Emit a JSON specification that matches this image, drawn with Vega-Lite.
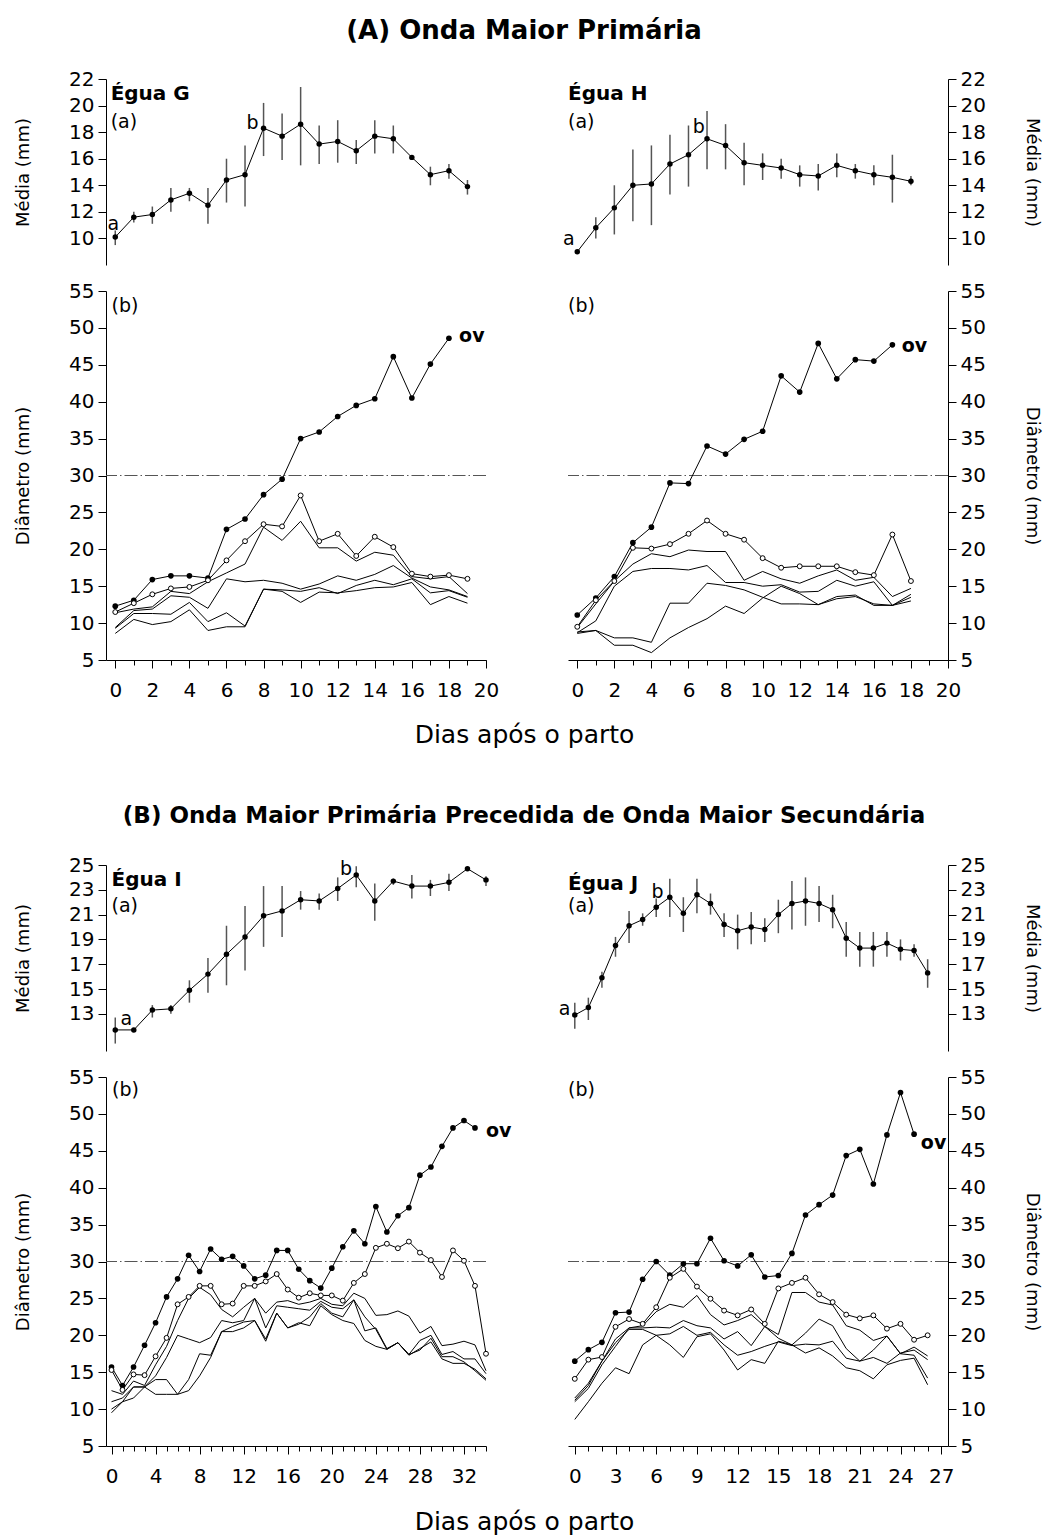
{
"$schema":"https://vega.github.io/schema/vega-lite/v6.json",
"padding":{"left":13,"top":18,"right":5,"bottom":5},
"config":{"view":{"stroke":null},"font":"DejaVu Sans",
"axis":{"domainColor":"black","tickColor":"black","labelColor":"black","titleColor":"black","grid":false,"labelFont":"DejaVu Sans","labelFontSize":20,"titleFont":"DejaVu Sans","titleFontWeight":"normal","titleFontSize":18,"labelFlush":false,"labelOverlap":false,"domainWidth":1,"tickWidth":1},
"text":{"font":"DejaVu Sans","color":"black"}},
"datasets":{
"G_top":[{"d":0,"m":10.1,"lo":9.5,"hi":10.6},{"d":1,"m":11.6,"lo":11.2,"hi":12.0},{"d":2,"m":11.8,"lo":11.1,"hi":12.4},{"d":3,"m":12.9,"lo":12.0,"hi":13.8},{"d":4,"m":13.4,"lo":12.8,"hi":13.8},{"d":5,"m":12.5,"lo":11.1,"hi":13.8},{"d":6,"m":14.4,"lo":12.7,"hi":16.0},{"d":7,"m":14.8,"lo":12.4,"hi":17.0},{"d":8,"m":18.3,"lo":16.2,"hi":20.2},{"d":9,"m":17.7,"lo":15.9,"hi":19.4},{"d":10,"m":18.6,"lo":15.5,"hi":21.4},{"d":11,"m":17.1,"lo":15.6,"hi":18.5},{"d":12,"m":17.3,"lo":15.7,"hi":18.9},{"d":13,"m":16.6,"lo":15.6,"hi":17.4},{"d":14,"m":17.7,"lo":16.4,"hi":18.9},{"d":15,"m":17.5,"lo":16.4,"hi":18.5},{"d":16,"m":16.1,"lo":16.0,"hi":16.2},{"d":17,"m":14.8,"lo":14.0,"hi":15.4},{"d":18,"m":15.1,"lo":14.5,"hi":15.6},{"d":19,"m":13.9,"lo":13.3,"hi":14.4}],
"H_top":[{"d":0,"m":9.0,"lo":9.0,"hi":9.0},{"d":1,"m":10.8,"lo":10.0,"hi":11.6},{"d":2,"m":12.3,"lo":10.3,"hi":14.0},{"d":3,"m":14.0,"lo":11.3,"hi":16.7},{"d":4,"m":14.1,"lo":11.0,"hi":17.0},{"d":5,"m":15.6,"lo":13.3,"hi":17.8},{"d":6,"m":16.3,"lo":13.9,"hi":18.5},{"d":7,"m":17.5,"lo":15.2,"hi":19.6},{"d":8,"m":17.0,"lo":15.2,"hi":18.6},{"d":9,"m":15.7,"lo":14.0,"hi":17.2},{"d":10,"m":15.5,"lo":14.4,"hi":16.4},{"d":11,"m":15.3,"lo":14.5,"hi":16.0},{"d":12,"m":14.8,"lo":13.9,"hi":15.5},{"d":13,"m":14.7,"lo":13.6,"hi":15.6},{"d":14,"m":15.5,"lo":14.6,"hi":16.4},{"d":15,"m":15.1,"lo":14.5,"hi":15.6},{"d":16,"m":14.8,"lo":14.0,"hi":15.5},{"d":17,"m":14.6,"lo":12.7,"hi":16.3},{"d":18,"m":14.3,"lo":14.0,"hi":14.7}],
"I_top":[{"d":0,"m":11.7,"lo":10.6,"hi":12.7},{"d":1,"m":11.7,"lo":11.6,"hi":11.8},{"d":2,"m":13.3,"lo":12.7,"hi":13.7},{"d":3,"m":13.4,"lo":13.0,"hi":13.7},{"d":4,"m":14.9,"lo":13.9,"hi":15.7},{"d":5,"m":16.2,"lo":14.7,"hi":17.5},{"d":6,"m":17.8,"lo":15.3,"hi":20.1},{"d":7,"m":19.2,"lo":16.5,"hi":21.7},{"d":8,"m":20.9,"lo":18.4,"hi":23.3},{"d":9,"m":21.3,"lo":19.2,"hi":23.3},{"d":10,"m":22.2,"lo":21.4,"hi":22.9},{"d":11,"m":22.1,"lo":21.4,"hi":22.7},{"d":12,"m":23.1,"lo":22.1,"hi":24.0},{"d":13,"m":24.2,"lo":23.2,"hi":24.9},{"d":14,"m":22.1,"lo":20.5,"hi":23.5},{"d":15,"m":23.7,"lo":23.4,"hi":23.9},{"d":16,"m":23.3,"lo":22.3,"hi":24.2},{"d":17,"m":23.3,"lo":22.5,"hi":23.8},{"d":18,"m":23.6,"lo":22.9,"hi":24.3},{"d":19,"m":24.7,"lo":24.6,"hi":24.8},{"d":20,"m":23.8,"lo":23.3,"hi":24.1}],
"J_top":[{"d":0,"m":12.9,"lo":11.8,"hi":13.9},{"d":1,"m":13.5,"lo":12.5,"hi":14.3},{"d":2,"m":15.9,"lo":15.1,"hi":16.4},{"d":3,"m":18.5,"lo":17.6,"hi":19.2},{"d":4,"m":20.1,"lo":18.7,"hi":21.3},{"d":5,"m":20.6,"lo":20.1,"hi":21.1},{"d":6,"m":21.6,"lo":20.8,"hi":22.3},{"d":7,"m":22.4,"lo":20.8,"hi":23.9},{"d":8,"m":21.1,"lo":19.6,"hi":22.4},{"d":9,"m":22.6,"lo":21.1,"hi":23.9},{"d":10,"m":21.9,"lo":21.0,"hi":22.7},{"d":11,"m":20.2,"lo":19.2,"hi":21.1},{"d":12,"m":19.7,"lo":18.2,"hi":21.0},{"d":13,"m":20.0,"lo":18.6,"hi":21.2},{"d":14,"m":19.8,"lo":18.8,"hi":20.7},{"d":15,"m":21.0,"lo":19.5,"hi":22.2},{"d":16,"m":21.9,"lo":19.8,"hi":23.7},{"d":17,"m":22.1,"lo":20.1,"hi":24.0},{"d":18,"m":21.9,"lo":20.4,"hi":23.3},{"d":19,"m":21.4,"lo":19.9,"hi":22.6},{"d":20,"m":19.1,"lo":17.6,"hi":20.4},{"d":21,"m":18.3,"lo":16.8,"hi":19.6},{"d":22,"m":18.3,"lo":16.8,"hi":19.6},{"d":23,"m":18.7,"lo":17.6,"hi":19.6},{"d":24,"m":18.2,"lo":17.3,"hi":19.0},{"d":25,"m":18.1,"lo":17.6,"hi":18.6},{"d":26,"m":16.3,"lo":15.1,"hi":17.4}],
"G_bot":[
{"d":0,"v":12.3,"s":"f"},{"d":1,"v":13.1,"s":"f"},{"d":2,"v":15.9,"s":"f"},{"d":3,"v":16.4,"s":"f"},{"d":4,"v":16.4,"s":"f"},{"d":5,"v":16.1,"s":"f"},{"d":6,"v":22.7,"s":"f"},{"d":7,"v":24.1,"s":"f"},{"d":8,"v":27.4,"s":"f"},{"d":9,"v":29.5,"s":"f"},{"d":10,"v":35.0,"s":"f"},{"d":11,"v":35.9,"s":"f"},{"d":12,"v":38.0,"s":"f"},{"d":13,"v":39.5,"s":"f"},{"d":14,"v":40.4,"s":"f"},{"d":15,"v":46.1,"s":"f"},{"d":16,"v":40.5,"s":"f"},{"d":17,"v":45.1,"s":"f"},{"d":18,"v":48.6,"s":"f"},
{"d":0,"v":11.5,"s":"o"},{"d":1,"v":12.7,"s":"o"},{"d":2,"v":13.9,"s":"o"},{"d":3,"v":14.7,"s":"o"},{"d":4,"v":14.9,"s":"o"},{"d":5,"v":15.8,"s":"o"},{"d":6,"v":18.5,"s":"o"},{"d":7,"v":21.1,"s":"o"},{"d":8,"v":23.4,"s":"o"},{"d":9,"v":23.1,"s":"o"},{"d":10,"v":27.3,"s":"o"},{"d":11,"v":21.1,"s":"o"},{"d":12,"v":22.1,"s":"o"},{"d":13,"v":19.1,"s":"o"},{"d":14,"v":21.7,"s":"o"},{"d":15,"v":20.3,"s":"o"},{"d":16,"v":16.7,"s":"o"},{"d":17,"v":16.3,"s":"o"},{"d":18,"v":16.5,"s":"o"},{"d":19,"v":16.0,"s":"o"},
{"d":0,"v":11.4,"s":"l1"},{"d":1,"v":11.9,"s":"l1"},{"d":2,"v":12.2,"s":"l1"},{"d":3,"v":14.3,"s":"l1"},{"d":4,"v":14.0,"s":"l1"},{"d":5,"v":15.6,"s":"l1"},{"d":6,"v":16.8,"s":"l1"},{"d":7,"v":18.0,"s":"l1"},{"d":8,"v":23.0,"s":"l1"},{"d":9,"v":21.2,"s":"l1"},{"d":10,"v":23.8,"s":"l1"},{"d":11,"v":20.2,"s":"l1"},{"d":12,"v":20.2,"s":"l1"},{"d":13,"v":18.4,"s":"l1"},{"d":14,"v":19.6,"s":"l1"},{"d":15,"v":19.2,"s":"l1"},{"d":16,"v":16.3,"s":"l1"},{"d":17,"v":16.0,"s":"l1"},{"d":18,"v":16.3,"s":"l1"},{"d":19,"v":14.0,"s":"l1"},
{"d":0,"v":9.4,"s":"l2"},{"d":1,"v":11.7,"s":"l2"},{"d":2,"v":11.9,"s":"l2"},{"d":3,"v":13.7,"s":"l2"},{"d":4,"v":13.5,"s":"l2"},{"d":5,"v":12.0,"s":"l2"},{"d":6,"v":16.0,"s":"l2"},{"d":7,"v":15.6,"s":"l2"},{"d":8,"v":15.8,"s":"l2"},{"d":9,"v":15.4,"s":"l2"},{"d":10,"v":14.6,"s":"l2"},{"d":11,"v":15.3,"s":"l2"},{"d":12,"v":16.4,"s":"l2"},{"d":13,"v":15.8,"s":"l2"},{"d":14,"v":16.6,"s":"l2"},{"d":15,"v":17.8,"s":"l2"},{"d":16,"v":16.1,"s":"l2"},{"d":17,"v":14.9,"s":"l2"},{"d":18,"v":14.5,"s":"l2"},{"d":19,"v":13.6,"s":"l2"},
{"d":0,"v":9.3,"s":"l3"},{"d":1,"v":11.3,"s":"l3"},{"d":2,"v":11.3,"s":"l3"},{"d":3,"v":11.2,"s":"l3"},{"d":4,"v":12.8,"s":"l3"},{"d":5,"v":10.2,"s":"l3"},{"d":6,"v":11.4,"s":"l3"},{"d":7,"v":9.6,"s":"l3"},{"d":8,"v":14.6,"s":"l3"},{"d":9,"v":14.5,"s":"l3"},{"d":10,"v":14.3,"s":"l3"},{"d":11,"v":14.8,"s":"l3"},{"d":12,"v":14.0,"s":"l3"},{"d":13,"v":15.1,"s":"l3"},{"d":14,"v":15.8,"s":"l3"},{"d":15,"v":15.2,"s":"l3"},{"d":16,"v":16.0,"s":"l3"},{"d":17,"v":14.1,"s":"l3"},{"d":18,"v":14.4,"s":"l3"},{"d":19,"v":13.5,"s":"l3"},
{"d":0,"v":8.6,"s":"l4"},{"d":1,"v":10.5,"s":"l4"},{"d":2,"v":9.8,"s":"l4"},{"d":3,"v":10.2,"s":"l4"},{"d":4,"v":11.8,"s":"l4"},{"d":5,"v":9.0,"s":"l4"},{"d":6,"v":9.5,"s":"l4"},{"d":7,"v":9.5,"s":"l4"},{"d":8,"v":14.6,"s":"l4"},{"d":9,"v":14.3,"s":"l4"},{"d":10,"v":12.8,"s":"l4"},{"d":11,"v":14.2,"s":"l4"},{"d":12,"v":14.1,"s":"l4"},{"d":13,"v":14.4,"s":"l4"},{"d":14,"v":14.8,"s":"l4"},{"d":15,"v":14.9,"s":"l4"},{"d":16,"v":15.5,"s":"l4"},{"d":17,"v":12.5,"s":"l4"},{"d":18,"v":13.6,"s":"l4"},{"d":19,"v":12.7,"s":"l4"}],
"H_bot":[
{"d":0,"v":11.1,"s":"f"},{"d":1,"v":13.4,"s":"f"},{"d":2,"v":16.3,"s":"f"},{"d":3,"v":20.9,"s":"f"},{"d":4,"v":23.0,"s":"f"},{"d":5,"v":29.0,"s":"f"},{"d":6,"v":28.9,"s":"f"},{"d":7,"v":34.0,"s":"f"},{"d":8,"v":32.9,"s":"f"},{"d":9,"v":34.9,"s":"f"},{"d":10,"v":36.0,"s":"f"},{"d":11,"v":43.5,"s":"f"},{"d":12,"v":41.3,"s":"f"},{"d":13,"v":47.9,"s":"f"},{"d":14,"v":43.1,"s":"f"},{"d":15,"v":45.7,"s":"f"},{"d":16,"v":45.5,"s":"f"},{"d":17,"v":47.7,"s":"f"},
{"d":0,"v":9.5,"s":"o"},{"d":1,"v":13.1,"s":"o"},{"d":2,"v":15.7,"s":"o"},{"d":3,"v":20.2,"s":"o"},{"d":4,"v":20.1,"s":"o"},{"d":5,"v":20.7,"s":"o"},{"d":6,"v":22.1,"s":"o"},{"d":7,"v":23.9,"s":"o"},{"d":8,"v":22.1,"s":"o"},{"d":9,"v":21.3,"s":"o"},{"d":10,"v":18.8,"s":"o"},{"d":11,"v":17.5,"s":"o"},{"d":12,"v":17.7,"s":"o"},{"d":13,"v":17.7,"s":"o"},{"d":14,"v":17.7,"s":"o"},{"d":15,"v":16.9,"s":"o"},{"d":16,"v":16.5,"s":"o"},{"d":17,"v":22.0,"s":"o"},{"d":18,"v":15.7,"s":"o"},
{"d":0,"v":9.4,"s":"l1"},{"d":1,"v":12.6,"s":"l1"},{"d":2,"v":15.7,"s":"l1"},{"d":3,"v":18.0,"s":"l1"},{"d":4,"v":19.4,"s":"l1"},{"d":5,"v":19.0,"s":"l1"},{"d":6,"v":19.9,"s":"l1"},{"d":7,"v":19.7,"s":"l1"},{"d":8,"v":19.7,"s":"l1"},{"d":9,"v":15.8,"s":"l1"},{"d":10,"v":17.0,"s":"l1"},{"d":11,"v":16.0,"s":"l1"},{"d":12,"v":15.4,"s":"l1"},{"d":13,"v":16.4,"s":"l1"},{"d":14,"v":17.2,"s":"l1"},{"d":15,"v":15.8,"s":"l1"},{"d":16,"v":16.2,"s":"l1"},{"d":17,"v":13.6,"s":"l1"},{"d":18,"v":14.7,"s":"l1"},
{"d":0,"v":8.7,"s":"l2"},{"d":1,"v":10.3,"s":"l2"},{"d":2,"v":15.0,"s":"l2"},{"d":3,"v":17.0,"s":"l2"},{"d":4,"v":17.4,"s":"l2"},{"d":5,"v":17.4,"s":"l2"},{"d":6,"v":17.2,"s":"l2"},{"d":7,"v":17.8,"s":"l2"},{"d":8,"v":15.5,"s":"l2"},{"d":9,"v":15.5,"s":"l2"},{"d":10,"v":15.0,"s":"l2"},{"d":11,"v":15.2,"s":"l2"},{"d":12,"v":14.2,"s":"l2"},{"d":13,"v":14.3,"s":"l2"},{"d":14,"v":15.8,"s":"l2"},{"d":15,"v":15.0,"s":"l2"},{"d":16,"v":15.6,"s":"l2"},{"d":17,"v":12.4,"s":"l2"},{"d":18,"v":13.9,"s":"l2"},
{"d":0,"v":8.8,"s":"l3"},{"d":1,"v":9.0,"s":"l3"},{"d":2,"v":8.0,"s":"l3"},{"d":3,"v":8.0,"s":"l3"},{"d":4,"v":7.4,"s":"l3"},{"d":5,"v":12.7,"s":"l3"},{"d":6,"v":12.7,"s":"l3"},{"d":7,"v":15.4,"s":"l3"},{"d":8,"v":15.1,"s":"l3"},{"d":9,"v":14.5,"s":"l3"},{"d":10,"v":13.5,"s":"l3"},{"d":11,"v":12.6,"s":"l3"},{"d":12,"v":12.6,"s":"l3"},{"d":13,"v":12.5,"s":"l3"},{"d":14,"v":13.3,"s":"l3"},{"d":15,"v":13.6,"s":"l3"},{"d":16,"v":12.6,"s":"l3"},{"d":17,"v":12.4,"s":"l3"},{"d":18,"v":13.5,"s":"l3"},
{"d":0,"v":8.6,"s":"l4"},{"d":1,"v":9.0,"s":"l4"},{"d":2,"v":7.0,"s":"l4"},{"d":3,"v":7.0,"s":"l4"},{"d":4,"v":6.0,"s":"l4"},{"d":5,"v":8.0,"s":"l4"},{"d":6,"v":9.4,"s":"l4"},{"d":7,"v":10.6,"s":"l4"},{"d":8,"v":12.3,"s":"l4"},{"d":9,"v":11.3,"s":"l4"},{"d":10,"v":13.4,"s":"l4"},{"d":11,"v":15.0,"s":"l4"},{"d":12,"v":14.0,"s":"l4"},{"d":13,"v":12.5,"s":"l4"},{"d":14,"v":13.6,"s":"l4"},{"d":15,"v":13.8,"s":"l4"},{"d":16,"v":12.4,"s":"l4"},{"d":17,"v":12.4,"s":"l4"},{"d":18,"v":13.0,"s":"l4"}],
"I_bot":[
{"d":0,"v":15.7,"s":"f"},{"d":1,"v":13.2,"s":"f"},{"d":2,"v":15.7,"s":"f"},{"d":3,"v":18.65,"s":"f"},{"d":4,"v":21.7,"s":"f"},{"d":5,"v":25.2,"s":"f"},{"d":6,"v":27.65,"s":"f"},{"d":7,"v":30.85,"s":"f"},{"d":8,"v":28.65,"s":"f"},{"d":9,"v":31.7,"s":"f"},{"d":10,"v":30.3,"s":"f"},{"d":11,"v":30.7,"s":"f"},{"d":12,"v":29.4,"s":"f"},{"d":13,"v":27.65,"s":"f"},{"d":14,"v":28.15,"s":"f"},{"d":15,"v":31.5,"s":"f"},{"d":16,"v":31.5,"s":"f"},{"d":17,"v":28.95,"s":"f"},{"d":18,"v":27.4,"s":"f"},{"d":19,"v":26.4,"s":"f"},{"d":20,"v":29.1,"s":"f"},{"d":21,"v":32.0,"s":"f"},{"d":22,"v":34.15,"s":"f"},{"d":23,"v":32.4,"s":"f"},{"d":24,"v":37.45,"s":"f"},{"d":25,"v":34.0,"s":"f"},{"d":26,"v":36.2,"s":"f"},{"d":27,"v":37.3,"s":"f"},{"d":28,"v":41.7,"s":"f"},{"d":29,"v":42.8,"s":"f"},{"d":30,"v":45.6,"s":"f"},{"d":31,"v":48.1,"s":"f"},{"d":32,"v":49.1,"s":"f"},{"d":33,"v":48.1,"s":"f"},
{"d":0,"v":15.3,"s":"o"},{"d":1,"v":12.6,"s":"o"},{"d":2,"v":14.7,"s":"o"},{"d":3,"v":14.6,"s":"o"},{"d":4,"v":17.15,"s":"o"},{"d":5,"v":19.65,"s":"o"},{"d":6,"v":24.2,"s":"o"},{"d":7,"v":25.2,"s":"o"},{"d":8,"v":26.7,"s":"o"},{"d":9,"v":26.7,"s":"o"},{"d":10,"v":24.2,"s":"o"},{"d":11,"v":24.3,"s":"o"},{"d":12,"v":26.7,"s":"o"},{"d":13,"v":26.7,"s":"o"},{"d":14,"v":27.3,"s":"o"},{"d":15,"v":28.3,"s":"o"},{"d":16,"v":26.2,"s":"o"},{"d":17,"v":25.1,"s":"o"},{"d":18,"v":25.7,"s":"o"},{"d":19,"v":25.4,"s":"o"},{"d":20,"v":25.4,"s":"o"},{"d":21,"v":24.7,"s":"o"},{"d":22,"v":27.1,"s":"o"},{"d":23,"v":28.3,"s":"o"},{"d":24,"v":31.85,"s":"o"},{"d":25,"v":32.4,"s":"o"},{"d":26,"v":31.8,"s":"o"},{"d":27,"v":32.7,"s":"o"},{"d":28,"v":31.2,"s":"o"},{"d":29,"v":30.2,"s":"o"},{"d":30,"v":27.9,"s":"o"},{"d":31,"v":31.5,"s":"o"},{"d":32,"v":30.1,"s":"o"},{"d":33,"v":26.7,"s":"o"},{"d":34,"v":17.5,"s":"o"},
{"d":0,"v":12.5,"s":"l1"},{"d":1,"v":12.0,"s":"l1"},{"d":2,"v":13.8,"s":"l1"},{"d":3,"v":13.2,"s":"l1"},{"d":4,"v":16.0,"s":"l1"},{"d":5,"v":18.5,"s":"l1"},{"d":6,"v":22.0,"s":"l1"},{"d":7,"v":25.0,"s":"l1"},{"d":8,"v":26.5,"s":"l1"},{"d":9,"v":25.5,"s":"l1"},{"d":10,"v":23.5,"s":"l1"},{"d":11,"v":22.5,"s":"l1"},{"d":12,"v":23.8,"s":"l1"},{"d":13,"v":25.0,"s":"l1"},{"d":14,"v":23.0,"s":"l1"},{"d":15,"v":24.5,"s":"l1"},{"d":16,"v":24.7,"s":"l1"},{"d":17,"v":24.2,"s":"l1"},{"d":18,"v":24.5,"s":"l1"},{"d":19,"v":25.0,"s":"l1"},{"d":20,"v":24.2,"s":"l1"},{"d":21,"v":24.0,"s":"l1"},{"d":22,"v":25.7,"s":"l1"},{"d":23,"v":25.0,"s":"l1"},{"d":24,"v":22.7,"s":"l1"},{"d":25,"v":22.8,"s":"l1"},{"d":26,"v":23.3,"s":"l1"},{"d":27,"v":22.6,"s":"l1"},{"d":28,"v":20.3,"s":"l1"},{"d":29,"v":21.2,"s":"l1"},{"d":30,"v":18.6,"s":"l1"},{"d":31,"v":18.8,"s":"l1"},{"d":32,"v":19.2,"s":"l1"},{"d":33,"v":18.7,"s":"l1"},{"d":34,"v":15.2,"s":"l1"},
{"d":0,"v":11.0,"s":"l2"},{"d":1,"v":11.5,"s":"l2"},{"d":2,"v":13.0,"s":"l2"},{"d":3,"v":13.0,"s":"l2"},{"d":4,"v":14.5,"s":"l2"},{"d":5,"v":17.0,"s":"l2"},{"d":6,"v":20.0,"s":"l2"},{"d":7,"v":19.5,"s":"l2"},{"d":8,"v":19.0,"s":"l2"},{"d":9,"v":19.7,"s":"l2"},{"d":10,"v":22.0,"s":"l2"},{"d":11,"v":21.7,"s":"l2"},{"d":12,"v":22.0,"s":"l2"},{"d":13,"v":25.0,"s":"l2"},{"d":14,"v":21.0,"s":"l2"},{"d":15,"v":24.0,"s":"l2"},{"d":16,"v":23.8,"s":"l2"},{"d":17,"v":23.6,"s":"l2"},{"d":18,"v":23.4,"s":"l2"},{"d":19,"v":24.6,"s":"l2"},{"d":20,"v":23.8,"s":"l2"},{"d":21,"v":23.6,"s":"l2"},{"d":22,"v":24.8,"s":"l2"},{"d":23,"v":20.6,"s":"l2"},{"d":24,"v":21.0,"s":"l2"},{"d":25,"v":18.2,"s":"l2"},{"d":26,"v":19.0,"s":"l2"},{"d":27,"v":17.4,"s":"l2"},{"d":28,"v":19.3,"s":"l2"},{"d":29,"v":20.0,"s":"l2"},{"d":30,"v":17.4,"s":"l2"},{"d":31,"v":17.8,"s":"l2"},{"d":32,"v":16.8,"s":"l2"},{"d":33,"v":16.8,"s":"l2"},{"d":34,"v":14.8,"s":"l2"},
{"d":0,"v":10.0,"s":"l3"},{"d":1,"v":11.0,"s":"l3"},{"d":2,"v":11.5,"s":"l3"},{"d":3,"v":13.0,"s":"l3"},{"d":4,"v":14.0,"s":"l3"},{"d":5,"v":14.0,"s":"l3"},{"d":6,"v":12.0,"s":"l3"},{"d":7,"v":14.0,"s":"l3"},{"d":8,"v":17.5,"s":"l3"},{"d":9,"v":17.3,"s":"l3"},{"d":10,"v":20.5,"s":"l3"},{"d":11,"v":20.5,"s":"l3"},{"d":12,"v":21.0,"s":"l3"},{"d":13,"v":22.0,"s":"l3"},{"d":14,"v":19.5,"s":"l3"},{"d":15,"v":23.0,"s":"l3"},{"d":16,"v":21.0,"s":"l3"},{"d":17,"v":21.7,"s":"l3"},{"d":18,"v":21.3,"s":"l3"},{"d":19,"v":24.0,"s":"l3"},{"d":20,"v":22.8,"s":"l3"},{"d":21,"v":22.0,"s":"l3"},{"d":22,"v":21.6,"s":"l3"},{"d":23,"v":19.3,"s":"l3"},{"d":24,"v":18.5,"s":"l3"},{"d":25,"v":18.1,"s":"l3"},{"d":26,"v":19.0,"s":"l3"},{"d":27,"v":17.3,"s":"l3"},{"d":28,"v":18.2,"s":"l3"},{"d":29,"v":19.1,"s":"l3"},{"d":30,"v":16.8,"s":"l3"},{"d":31,"v":16.2,"s":"l3"},{"d":32,"v":16.2,"s":"l3"},{"d":33,"v":15.4,"s":"l3"},{"d":34,"v":14.1,"s":"l3"},
{"d":0,"v":9.5,"s":"l4"},{"d":1,"v":11.0,"s":"l4"},{"d":2,"v":13.0,"s":"l4"},{"d":3,"v":13.0,"s":"l4"},{"d":4,"v":12.0,"s":"l4"},{"d":5,"v":12.0,"s":"l4"},{"d":6,"v":12.0,"s":"l4"},{"d":7,"v":12.5,"s":"l4"},{"d":8,"v":14.5,"s":"l4"},{"d":9,"v":17.0,"s":"l4"},{"d":10,"v":20.5,"s":"l4"},{"d":11,"v":21.2,"s":"l4"},{"d":12,"v":21.8,"s":"l4"},{"d":13,"v":22.0,"s":"l4"},{"d":14,"v":19.2,"s":"l4"},{"d":15,"v":23.0,"s":"l4"},{"d":16,"v":21.0,"s":"l4"},{"d":17,"v":21.5,"s":"l4"},{"d":18,"v":22.5,"s":"l4"},{"d":19,"v":24.3,"s":"l4"},{"d":20,"v":23.0,"s":"l4"},{"d":21,"v":22.5,"s":"l4"},{"d":22,"v":24.8,"s":"l4"},{"d":23,"v":22.5,"s":"l4"},{"d":24,"v":20.8,"s":"l4"},{"d":25,"v":18.1,"s":"l4"},{"d":26,"v":19.0,"s":"l4"},{"d":27,"v":17.4,"s":"l4"},{"d":28,"v":18.0,"s":"l4"},{"d":29,"v":19.6,"s":"l4"},{"d":30,"v":17.1,"s":"l4"},{"d":31,"v":17.1,"s":"l4"},{"d":32,"v":16.4,"s":"l4"},{"d":33,"v":15.2,"s":"l4"},{"d":34,"v":13.9,"s":"l4"}],
"J_bot":[
{"d":0,"v":16.5,"s":"f"},{"d":1,"v":18.05,"s":"f"},{"d":2,"v":19.05,"s":"f"},{"d":3,"v":23.05,"s":"f"},{"d":4,"v":23.15,"s":"f"},{"d":5,"v":27.6,"s":"f"},{"d":6,"v":30.0,"s":"f"},{"d":7,"v":28.15,"s":"f"},{"d":8,"v":29.7,"s":"f"},{"d":9,"v":29.7,"s":"f"},{"d":10,"v":33.15,"s":"f"},{"d":11,"v":30.1,"s":"f"},{"d":12,"v":29.4,"s":"f"},{"d":13,"v":30.9,"s":"f"},{"d":14,"v":27.9,"s":"f"},{"d":15,"v":28.1,"s":"f"},{"d":16,"v":31.1,"s":"f"},{"d":17,"v":36.3,"s":"f"},{"d":18,"v":37.7,"s":"f"},{"d":19,"v":39.0,"s":"f"},{"d":20,"v":44.35,"s":"f"},{"d":21,"v":45.2,"s":"f"},{"d":22,"v":40.5,"s":"f"},{"d":23,"v":47.15,"s":"f"},{"d":24,"v":52.9,"s":"f"},{"d":25,"v":47.25,"s":"f"},
{"d":0,"v":14.1,"s":"o"},{"d":1,"v":16.7,"s":"o"},{"d":2,"v":17.05,"s":"o"},{"d":3,"v":21.15,"s":"o"},{"d":4,"v":22.2,"s":"o"},{"d":5,"v":21.55,"s":"o"},{"d":6,"v":23.8,"s":"o"},{"d":7,"v":27.8,"s":"o"},{"d":8,"v":29.0,"s":"o"},{"d":9,"v":26.6,"s":"o"},{"d":10,"v":24.95,"s":"o"},{"d":11,"v":23.35,"s":"o"},{"d":12,"v":22.7,"s":"o"},{"d":13,"v":23.5,"s":"o"},{"d":14,"v":21.55,"s":"o"},{"d":15,"v":26.35,"s":"o"},{"d":16,"v":27.1,"s":"o"},{"d":17,"v":27.8,"s":"o"},{"d":18,"v":25.55,"s":"o"},{"d":19,"v":24.5,"s":"o"},{"d":20,"v":22.8,"s":"o"},{"d":21,"v":22.3,"s":"o"},{"d":22,"v":22.7,"s":"o"},{"d":23,"v":20.9,"s":"o"},{"d":24,"v":21.55,"s":"o"},{"d":25,"v":19.4,"s":"o"},{"d":26,"v":20.0,"s":"o"},
{"d":0,"v":11.5,"s":"l1"},{"d":1,"v":13.5,"s":"l1"},{"d":2,"v":16.5,"s":"l1"},{"d":3,"v":19.5,"s":"l1"},{"d":4,"v":21.0,"s":"l1"},{"d":5,"v":21.3,"s":"l1"},{"d":6,"v":23.2,"s":"l1"},{"d":7,"v":24.2,"s":"l1"},{"d":8,"v":23.8,"s":"l1"},{"d":9,"v":25.4,"s":"l1"},{"d":10,"v":22.8,"s":"l1"},{"d":11,"v":21.4,"s":"l1"},{"d":12,"v":22.0,"s":"l1"},{"d":13,"v":22.8,"s":"l1"},{"d":14,"v":21.2,"s":"l1"},{"d":15,"v":20.1,"s":"l1"},{"d":16,"v":25.8,"s":"l1"},{"d":17,"v":25.8,"s":"l1"},{"d":18,"v":24.5,"s":"l1"},{"d":19,"v":24.1,"s":"l1"},{"d":20,"v":21.3,"s":"l1"},{"d":21,"v":20.7,"s":"l1"},{"d":22,"v":19.3,"s":"l1"},{"d":23,"v":19.9,"s":"l1"},{"d":24,"v":17.5,"s":"l1"},{"d":25,"v":17.3,"s":"l1"},{"d":26,"v":14.2,"s":"l1"},
{"d":0,"v":11.0,"s":"l2"},{"d":1,"v":12.8,"s":"l2"},{"d":2,"v":16.0,"s":"l2"},{"d":3,"v":18.5,"s":"l2"},{"d":4,"v":21.0,"s":"l2"},{"d":5,"v":21.0,"s":"l2"},{"d":6,"v":21.1,"s":"l2"},{"d":7,"v":21.0,"s":"l2"},{"d":8,"v":22.0,"s":"l2"},{"d":9,"v":21.3,"s":"l2"},{"d":10,"v":21.0,"s":"l2"},{"d":11,"v":19.5,"s":"l2"},{"d":12,"v":20.5,"s":"l2"},{"d":13,"v":18.6,"s":"l2"},{"d":14,"v":21.2,"s":"l2"},{"d":15,"v":19.6,"s":"l2"},{"d":16,"v":18.7,"s":"l2"},{"d":17,"v":20.3,"s":"l2"},{"d":18,"v":22.2,"s":"l2"},{"d":19,"v":21.3,"s":"l2"},{"d":20,"v":18.2,"s":"l2"},{"d":21,"v":16.5,"s":"l2"},{"d":22,"v":18.0,"s":"l2"},{"d":23,"v":19.9,"s":"l2"},{"d":24,"v":17.5,"s":"l2"},{"d":25,"v":18.4,"s":"l2"},{"d":26,"v":17.2,"s":"l2"},
{"d":0,"v":11.2,"s":"l3"},{"d":1,"v":13.2,"s":"l3"},{"d":2,"v":16.5,"s":"l3"},{"d":3,"v":19.0,"s":"l3"},{"d":4,"v":20.8,"s":"l3"},{"d":5,"v":20.8,"s":"l3"},{"d":6,"v":20.0,"s":"l3"},{"d":7,"v":20.2,"s":"l3"},{"d":8,"v":21.2,"s":"l3"},{"d":9,"v":20.0,"s":"l3"},{"d":10,"v":20.4,"s":"l3"},{"d":11,"v":18.7,"s":"l3"},{"d":12,"v":17.3,"s":"l3"},{"d":13,"v":17.8,"s":"l3"},{"d":14,"v":18.5,"s":"l3"},{"d":15,"v":19.1,"s":"l3"},{"d":16,"v":18.6,"s":"l3"},{"d":17,"v":18.8,"s":"l3"},{"d":18,"v":18.7,"s":"l3"},{"d":19,"v":19.2,"s":"l3"},{"d":20,"v":16.9,"s":"l3"},{"d":21,"v":16.5,"s":"l3"},{"d":22,"v":17.0,"s":"l3"},{"d":23,"v":16.2,"s":"l3"},{"d":24,"v":17.6,"s":"l3"},{"d":25,"v":18.0,"s":"l3"},{"d":26,"v":16.7,"s":"l3"},
{"d":0,"v":8.6,"s":"l4"},{"d":1,"v":11.0,"s":"l4"},{"d":2,"v":13.5,"s":"l4"},{"d":3,"v":15.6,"s":"l4"},{"d":4,"v":14.8,"s":"l4"},{"d":5,"v":18.7,"s":"l4"},{"d":6,"v":20.0,"s":"l4"},{"d":7,"v":18.7,"s":"l4"},{"d":8,"v":17.0,"s":"l4"},{"d":9,"v":19.8,"s":"l4"},{"d":10,"v":20.2,"s":"l4"},{"d":11,"v":18.0,"s":"l4"},{"d":12,"v":15.3,"s":"l4"},{"d":13,"v":16.7,"s":"l4"},{"d":14,"v":16.2,"s":"l4"},{"d":15,"v":19.2,"s":"l4"},{"d":16,"v":18.7,"s":"l4"},{"d":17,"v":17.6,"s":"l4"},{"d":18,"v":18.3,"s":"l4"},{"d":19,"v":17.2,"s":"l4"},{"d":20,"v":15.6,"s":"l4"},{"d":21,"v":15.2,"s":"l4"},{"d":22,"v":14.1,"s":"l4"},{"d":23,"v":16.0,"s":"l4"},{"d":24,"v":16.6,"s":"l4"},{"d":25,"v":16.9,"s":"l4"},{"d":26,"v":13.3,"s":"l4"}]
},
"columns":2,
"spacing":{"row":26,"column":82},
"bounds":"flush",
"concat":[
{"width":380,"height":186,
 "title":{"text":"(A) Onda Maior Primária","anchor":"middle","frame":"group","dx":228,"offset":25,"fontSize":26,"fontWeight":"bold","font":"DejaVu Sans","color":"black"},
 "layer":[
  {"data":{"name":"G_top"},"mark":{"type":"rule","color":"#555555","strokeWidth":1.5},"encoding":{"x":{"field":"d","type":"quantitative","scale":{"domain":[-0.5,20],"nice":false},"axis":null},"y":{"field":"lo","type":"quantitative","scale":{"domain":[8,22],"nice":false,"zero":false},"axis":{"values":[10,12,14,16,18,20,22],"tickSize":8,"labelPadding":4,"title":"Média (mm)","titleX":-83,"titleY":93,"titleAngle":-90,"titleAlign":"center","titleBaseline":"middle"}},"y2":{"field":"hi"}}},
  {"data":{"name":"G_top"},"mark":{"type":"line","color":"black","strokeWidth":1},"encoding":{"x":{"field":"d","type":"quantitative","scale":{"domain":[-0.5,20],"nice":false},"axis":null},"y":{"field":"m","type":"quantitative","scale":{"domain":[8,22],"nice":false,"zero":false},"axis":null}}},
  {"data":{"name":"G_top"},"mark":{"type":"point","filled":true,"color":"black","size":30,"opacity":1},"encoding":{"x":{"field":"d","type":"quantitative","scale":{"domain":[-0.5,20],"nice":false},"axis":null},"y":{"field":"m","type":"quantitative","scale":{"domain":[8,22],"nice":false,"zero":false},"axis":null}}},
  {"data":{"values":[{}]},"mark":{"type":"text","text":"Égua G","align":"left","baseline":"middle","fontSize":20,"fontWeight":"bold"},"encoding":{"x":{"datum":-0.25,"type":"quantitative","scale":{"domain":[-0.5,20],"nice":false},"axis":null},"y":{"datum":20.9,"type":"quantitative","scale":{"domain":[8,22],"nice":false,"zero":false},"axis":null}}},
  {"data":{"values":[{}]},"mark":{"type":"text","text":"(a)","align":"left","baseline":"middle","fontSize":19},"encoding":{"x":{"datum":-0.25,"type":"quantitative","scale":{"domain":[-0.5,20],"nice":false},"axis":null},"y":{"datum":18.8,"type":"quantitative","scale":{"domain":[8,22],"nice":false,"zero":false},"axis":null}}},
  {"data":{"values":[{}]},"mark":{"type":"text","text":"a","align":"center","baseline":"middle","fontSize":19},"encoding":{"x":{"datum":-0.1,"type":"quantitative","scale":{"domain":[-0.5,20],"nice":false},"axis":null},"y":{"datum":11.1,"type":"quantitative","scale":{"domain":[8,22],"nice":false,"zero":false},"axis":null}}},
  {"data":{"values":[{}]},"mark":{"type":"text","text":"b","align":"center","baseline":"middle","fontSize":19},"encoding":{"x":{"datum":7.4,"type":"quantitative","scale":{"domain":[-0.5,20],"nice":false},"axis":null},"y":{"datum":18.7,"type":"quantitative","scale":{"domain":[8,22],"nice":false,"zero":false},"axis":null}}}
 ],
 "resolve":{"axis":{"y":"independent"}}},
{"width":380,"height":186,
 "layer":[
  {"data":{"name":"H_top"},"mark":{"type":"rule","color":"#555555","strokeWidth":1.5},"encoding":{"x":{"field":"d","type":"quantitative","scale":{"domain":[-0.5,20],"nice":false},"axis":null},"y":{"field":"lo","type":"quantitative","scale":{"domain":[8,22],"nice":false,"zero":false},"axis":{"orient":"right","values":[10,12,14,16,18,20,22],"tickSize":8,"labelPadding":4,"title":"Média (mm)","titleX":83,"titleY":93,"titleAngle":90,"titleAlign":"center","titleBaseline":"middle"}},"y2":{"field":"hi"}}},
  {"data":{"name":"H_top"},"mark":{"type":"line","color":"black","strokeWidth":1},"encoding":{"x":{"field":"d","type":"quantitative","scale":{"domain":[-0.5,20],"nice":false},"axis":null},"y":{"field":"m","type":"quantitative","scale":{"domain":[8,22],"nice":false,"zero":false},"axis":null}}},
  {"data":{"name":"H_top"},"mark":{"type":"point","filled":true,"color":"black","size":30,"opacity":1},"encoding":{"x":{"field":"d","type":"quantitative","scale":{"domain":[-0.5,20],"nice":false},"axis":null},"y":{"field":"m","type":"quantitative","scale":{"domain":[8,22],"nice":false,"zero":false},"axis":null}}},
  {"data":{"values":[{}]},"mark":{"type":"text","text":"Égua H","align":"left","baseline":"middle","fontSize":20,"fontWeight":"bold"},"encoding":{"x":{"datum":-0.5,"type":"quantitative","scale":{"domain":[-0.5,20],"nice":false},"axis":null},"y":{"datum":20.9,"type":"quantitative","scale":{"domain":[8,22],"nice":false,"zero":false},"axis":null}}},
  {"data":{"values":[{}]},"mark":{"type":"text","text":"(a)","align":"left","baseline":"middle","fontSize":19},"encoding":{"x":{"datum":-0.5,"type":"quantitative","scale":{"domain":[-0.5,20],"nice":false},"axis":null},"y":{"datum":18.8,"type":"quantitative","scale":{"domain":[8,22],"nice":false,"zero":false},"axis":null}}},
  {"data":{"values":[{}]},"mark":{"type":"text","text":"a","align":"center","baseline":"middle","fontSize":19},"encoding":{"x":{"datum":-0.45,"type":"quantitative","scale":{"domain":[-0.5,20],"nice":false},"axis":null},"y":{"datum":9.95,"type":"quantitative","scale":{"domain":[8,22],"nice":false,"zero":false},"axis":null}}},
  {"data":{"values":[{}]},"mark":{"type":"text","text":"b","align":"center","baseline":"middle","fontSize":19},"encoding":{"x":{"datum":6.55,"type":"quantitative","scale":{"domain":[-0.5,20],"nice":false},"axis":null},"y":{"datum":18.4,"type":"quantitative","scale":{"domain":[8,22],"nice":false,"zero":false},"axis":null}}}
 ],
 "resolve":{"axis":{"y":"independent"}}},
{"width":380,"height":369,
 "layer":[
  {"data":{"values":[{}]},"mark":{"type":"rule","color":"#555555","strokeWidth":1.2,"strokeDash":[13,3,1.5,3]},"encoding":{"y":{"datum":30,"type":"quantitative","scale":{"domain":[5,55],"nice":false,"zero":false},"axis":null}}},
  {"data":{"name":"G_bot"},"mark":{"type":"line","color":"black","strokeWidth":1},"encoding":{"x":{"field":"d","type":"quantitative","scale":{"domain":[-0.5,20],"nice":false},"axis":{"orient":"bottom","values":[0,2,4,6,8,10,12,14,16,18,20],"tickSize":8,"labelPadding":12,"title":"Dias após o parto","titleX":418,"titleY":74,"titleAlign":"center","titleBaseline":"middle","titleFontSize":25}},"y":{"field":"v","type":"quantitative","scale":{"domain":[5,55],"nice":false,"zero":false},"axis":{"orient":"left","values":[5,10,15,20,25,30,35,40,45,50,55],"tickSize":8,"labelPadding":4,"title":"Diâmetro (mm)","titleX":-83,"titleY":184.5,"titleAngle":-90,"titleAlign":"center","titleBaseline":"middle"}},"detail":{"field":"s"}}},
  {"data":{"name":"G_bot"},"transform":[{"filter":"datum.s=='f'"}],"mark":{"type":"point","filled":true,"color":"black","size":32,"opacity":1},"encoding":{"x":{"field":"d","type":"quantitative","scale":{"domain":[-0.5,20],"nice":false},"axis":{"orient":"bottom","values":[0,1,2,3,4,5,6,7,8,9,10,11,12,13,14,15,16,17,18,19,20],"tickSize":5,"labels":false,"domain":false,"title":null}},"y":{"field":"v","type":"quantitative","scale":{"domain":[5,55],"nice":false,"zero":false},"axis":null}}},
  {"data":{"name":"G_bot"},"transform":[{"filter":"datum.s=='o'"}],"mark":{"type":"point","filled":true,"fill":"white","stroke":"black","strokeWidth":1,"size":24,"opacity":1},"encoding":{"x":{"field":"d","type":"quantitative","scale":{"domain":[-0.5,20],"nice":false},"axis":null},"y":{"field":"v","type":"quantitative","scale":{"domain":[5,55],"nice":false,"zero":false},"axis":null}}},
  {"data":{"values":[{}]},"mark":{"type":"text","text":"(b)","align":"left","baseline":"middle","fontSize":19},"encoding":{"x":{"datum":-0.2,"type":"quantitative","scale":{"domain":[-0.5,20],"nice":false},"axis":null},"y":{"datum":53.0,"type":"quantitative","scale":{"domain":[5,55],"nice":false,"zero":false},"axis":null}}},
  {"data":{"values":[{}]},"mark":{"type":"text","text":"ov","align":"left","baseline":"middle","fontSize":19,"fontWeight":"bold"},"encoding":{"x":{"datum":18.55,"type":"quantitative","scale":{"domain":[-0.5,20],"nice":false},"axis":null},"y":{"datum":48.9,"type":"quantitative","scale":{"domain":[5,55],"nice":false,"zero":false},"axis":null}}}
 ],
 "resolve":{"axis":{"x":"independent","y":"independent"}}},
{"width":380,"height":369,
 "layer":[
  {"data":{"values":[{}]},"mark":{"type":"rule","color":"#555555","strokeWidth":1.2,"strokeDash":[13,3,1.5,3]},"encoding":{"y":{"datum":30,"type":"quantitative","scale":{"domain":[5,55],"nice":false,"zero":false},"axis":null}}},
  {"data":{"name":"H_bot"},"mark":{"type":"line","color":"black","strokeWidth":1},"encoding":{"x":{"field":"d","type":"quantitative","scale":{"domain":[-0.5,20],"nice":false},"axis":{"orient":"bottom","values":[0,2,4,6,8,10,12,14,16,18,20],"tickSize":8,"labelPadding":12,"title":null}},"y":{"field":"v","type":"quantitative","scale":{"domain":[5,55],"nice":false,"zero":false},"axis":{"orient":"right","values":[5,10,15,20,25,30,35,40,45,50,55],"tickSize":8,"labelPadding":4,"title":"Diâmetro (mm)","titleX":83,"titleY":184.5,"titleAngle":90,"titleAlign":"center","titleBaseline":"middle"}},"detail":{"field":"s"}}},
  {"data":{"name":"H_bot"},"transform":[{"filter":"datum.s=='f'"}],"mark":{"type":"point","filled":true,"color":"black","size":32,"opacity":1},"encoding":{"x":{"field":"d","type":"quantitative","scale":{"domain":[-0.5,20],"nice":false},"axis":{"orient":"bottom","values":[0,1,2,3,4,5,6,7,8,9,10,11,12,13,14,15,16,17,18,19,20],"tickSize":5,"labels":false,"domain":false,"title":null}},"y":{"field":"v","type":"quantitative","scale":{"domain":[5,55],"nice":false,"zero":false},"axis":null}}},
  {"data":{"name":"H_bot"},"transform":[{"filter":"datum.s=='o'"}],"mark":{"type":"point","filled":true,"fill":"white","stroke":"black","strokeWidth":1,"size":24,"opacity":1},"encoding":{"x":{"field":"d","type":"quantitative","scale":{"domain":[-0.5,20],"nice":false},"axis":null},"y":{"field":"v","type":"quantitative","scale":{"domain":[5,55],"nice":false,"zero":false},"axis":null}}},
  {"data":{"values":[{}]},"mark":{"type":"text","text":"(b)","align":"left","baseline":"middle","fontSize":19},"encoding":{"x":{"datum":-0.5,"type":"quantitative","scale":{"domain":[-0.5,20],"nice":false},"axis":null},"y":{"datum":53.0,"type":"quantitative","scale":{"domain":[5,55],"nice":false,"zero":false},"axis":null}}},
  {"data":{"values":[{}]},"mark":{"type":"text","text":"ov","align":"left","baseline":"middle","fontSize":19,"fontWeight":"bold"},"encoding":{"x":{"datum":17.5,"type":"quantitative","scale":{"domain":[-0.5,20],"nice":false},"axis":null},"y":{"datum":47.5,"type":"quantitative","scale":{"domain":[5,55],"nice":false,"zero":false},"axis":null}}}
 ],
 "resolve":{"axis":{"x":"independent","y":"independent"}}},
{"width":380,"height":153,"data":{"values":[{}]},"mark":{"type":"point","opacity":0},"encoding":{}},
{"width":380,"height":153,"data":{"values":[{}]},"mark":{"type":"point","opacity":0},"encoding":{}},
{"width":380,"height":186,
 "title":{"text":"(B) Onda Maior Primária Precedida de Onda Maior Secundária","anchor":"middle","frame":"group","dx":228,"offset":27,"fontSize":23,"fontWeight":"bold","font":"DejaVu Sans","color":"black"},
 "layer":[
  {"data":{"name":"I_top"},"mark":{"type":"rule","color":"#555555","strokeWidth":1.5},"encoding":{"x":{"field":"d","type":"quantitative","scale":{"domain":[-0.5,20],"nice":false},"axis":null},"y":{"field":"lo","type":"quantitative","scale":{"domain":[10,25],"nice":false,"zero":false},"axis":{"values":[13,15,17,19,21,23,25],"tickSize":8,"labelPadding":4,"title":"Média (mm)","titleX":-83,"titleY":93,"titleAngle":-90,"titleAlign":"center","titleBaseline":"middle"}},"y2":{"field":"hi"}}},
  {"data":{"name":"I_top"},"mark":{"type":"line","color":"black","strokeWidth":1},"encoding":{"x":{"field":"d","type":"quantitative","scale":{"domain":[-0.5,20],"nice":false},"axis":null},"y":{"field":"m","type":"quantitative","scale":{"domain":[10,25],"nice":false,"zero":false},"axis":null}}},
  {"data":{"name":"I_top"},"mark":{"type":"point","filled":true,"color":"black","size":30,"opacity":1},"encoding":{"x":{"field":"d","type":"quantitative","scale":{"domain":[-0.5,20],"nice":false},"axis":null},"y":{"field":"m","type":"quantitative","scale":{"domain":[10,25],"nice":false,"zero":false},"axis":null}}},
  {"data":{"values":[{}]},"mark":{"type":"text","text":"Égua I","align":"left","baseline":"middle","fontSize":20,"fontWeight":"bold"},"encoding":{"x":{"datum":-0.2,"type":"quantitative","scale":{"domain":[-0.5,20],"nice":false},"axis":null},"y":{"datum":23.8,"type":"quantitative","scale":{"domain":[10,25],"nice":false,"zero":false},"axis":null}}},
  {"data":{"values":[{}]},"mark":{"type":"text","text":"(a)","align":"left","baseline":"middle","fontSize":19},"encoding":{"x":{"datum":-0.2,"type":"quantitative","scale":{"domain":[-0.5,20],"nice":false},"axis":null},"y":{"datum":21.7,"type":"quantitative","scale":{"domain":[10,25],"nice":false,"zero":false},"axis":null}}},
  {"data":{"values":[{}]},"mark":{"type":"text","text":"a","align":"center","baseline":"middle","fontSize":19},"encoding":{"x":{"datum":0.6,"type":"quantitative","scale":{"domain":[-0.5,20],"nice":false},"axis":null},"y":{"datum":12.55,"type":"quantitative","scale":{"domain":[10,25],"nice":false,"zero":false},"axis":null}}},
  {"data":{"values":[{}]},"mark":{"type":"text","text":"b","align":"center","baseline":"middle","fontSize":19},"encoding":{"x":{"datum":12.45,"type":"quantitative","scale":{"domain":[-0.5,20],"nice":false},"axis":null},"y":{"datum":24.7,"type":"quantitative","scale":{"domain":[10,25],"nice":false,"zero":false},"axis":null}}}
 ],
 "resolve":{"axis":{"y":"independent"}}},
{"width":380,"height":186,
 "layer":[
  {"data":{"name":"J_top"},"mark":{"type":"rule","color":"#555555","strokeWidth":1.5},"encoding":{"x":{"field":"d","type":"quantitative","scale":{"domain":[-0.5,27.5],"nice":false},"axis":null},"y":{"field":"lo","type":"quantitative","scale":{"domain":[10,25],"nice":false,"zero":false},"axis":{"orient":"right","values":[13,15,17,19,21,23,25],"tickSize":8,"labelPadding":4,"title":"Média (mm)","titleX":83,"titleY":93,"titleAngle":90,"titleAlign":"center","titleBaseline":"middle"}},"y2":{"field":"hi"}}},
  {"data":{"name":"J_top"},"mark":{"type":"line","color":"black","strokeWidth":1},"encoding":{"x":{"field":"d","type":"quantitative","scale":{"domain":[-0.5,27.5],"nice":false},"axis":null},"y":{"field":"m","type":"quantitative","scale":{"domain":[10,25],"nice":false,"zero":false},"axis":null}}},
  {"data":{"name":"J_top"},"mark":{"type":"point","filled":true,"color":"black","size":30,"opacity":1},"encoding":{"x":{"field":"d","type":"quantitative","scale":{"domain":[-0.5,27.5],"nice":false},"axis":null},"y":{"field":"m","type":"quantitative","scale":{"domain":[10,25],"nice":false,"zero":false},"axis":null}}},
  {"data":{"values":[{}]},"mark":{"type":"text","text":"Égua J","align":"left","baseline":"middle","fontSize":20,"fontWeight":"bold"},"encoding":{"x":{"datum":-0.5,"type":"quantitative","scale":{"domain":[-0.5,27.5],"nice":false},"axis":null},"y":{"datum":23.5,"type":"quantitative","scale":{"domain":[10,25],"nice":false,"zero":false},"axis":null}}},
  {"data":{"values":[{}]},"mark":{"type":"text","text":"(a)","align":"left","baseline":"middle","fontSize":19},"encoding":{"x":{"datum":-0.5,"type":"quantitative","scale":{"domain":[-0.5,27.5],"nice":false},"axis":null},"y":{"datum":21.7,"type":"quantitative","scale":{"domain":[10,25],"nice":false,"zero":false},"axis":null}}},
  {"data":{"values":[{}]},"mark":{"type":"text","text":"a","align":"center","baseline":"middle","fontSize":19},"encoding":{"x":{"datum":-0.76,"type":"quantitative","scale":{"domain":[-0.5,27.5],"nice":false},"axis":null},"y":{"datum":13.4,"type":"quantitative","scale":{"domain":[10,25],"nice":false,"zero":false},"axis":null}}},
  {"data":{"values":[{}]},"mark":{"type":"text","text":"b","align":"center","baseline":"middle","fontSize":19},"encoding":{"x":{"datum":6.1,"type":"quantitative","scale":{"domain":[-0.5,27.5],"nice":false},"axis":null},"y":{"datum":22.8,"type":"quantitative","scale":{"domain":[10,25],"nice":false,"zero":false},"axis":null}}}
 ],
 "resolve":{"axis":{"y":"independent"}}},
{"width":380,"height":369,
 "layer":[
  {"data":{"values":[{}]},"mark":{"type":"rule","color":"#555555","strokeWidth":1.2,"strokeDash":[13,3,1.5,3]},"encoding":{"y":{"datum":30,"type":"quantitative","scale":{"domain":[5,55],"nice":false,"zero":false},"axis":null}}},
  {"data":{"name":"I_bot"},"mark":{"type":"line","color":"black","strokeWidth":1},"encoding":{"x":{"field":"d","type":"quantitative","scale":{"domain":[-0.5,34],"nice":false},"axis":{"orient":"bottom","values":[0,4,8,12,16,20,24,28,32],"tickSize":8,"labelPadding":12,"title":"Dias após o parto","titleX":418,"titleY":75,"titleAlign":"center","titleBaseline":"middle","titleFontSize":25}},"y":{"field":"v","type":"quantitative","scale":{"domain":[5,55],"nice":false,"zero":false},"axis":{"orient":"left","values":[5,10,15,20,25,30,35,40,45,50,55],"tickSize":8,"labelPadding":4,"title":"Diâmetro (mm)","titleX":-83,"titleY":184.5,"titleAngle":-90,"titleAlign":"center","titleBaseline":"middle"}},"detail":{"field":"s"}}},
  {"data":{"name":"I_bot"},"transform":[{"filter":"datum.s=='f'"}],"mark":{"type":"point","filled":true,"color":"black","size":32,"opacity":1},"encoding":{"x":{"field":"d","type":"quantitative","scale":{"domain":[-0.5,34],"nice":false},"axis":{"orient":"bottom","values":[0,1,2,3,4,5,6,7,8,9,10,11,12,13,14,15,16,17,18,19,20,21,22,23,24,25,26,27,28,29,30,31,32,33,34],"tickSize":5,"labels":false,"domain":false,"title":null}},"y":{"field":"v","type":"quantitative","scale":{"domain":[5,55],"nice":false,"zero":false},"axis":null}}},
  {"data":{"name":"I_bot"},"transform":[{"filter":"datum.s=='o'"}],"mark":{"type":"point","filled":true,"fill":"white","stroke":"black","strokeWidth":1,"size":24,"opacity":1},"encoding":{"x":{"field":"d","type":"quantitative","scale":{"domain":[-0.5,34],"nice":false},"axis":null},"y":{"field":"v","type":"quantitative","scale":{"domain":[5,55],"nice":false,"zero":false},"axis":null}}},
  {"data":{"values":[{}]},"mark":{"type":"text","text":"(b)","align":"left","baseline":"middle","fontSize":19},"encoding":{"x":{"datum":0.05,"type":"quantitative","scale":{"domain":[-0.5,34],"nice":false},"axis":null},"y":{"datum":53.3,"type":"quantitative","scale":{"domain":[5,55],"nice":false,"zero":false},"axis":null}}},
  {"data":{"values":[{}]},"mark":{"type":"text","text":"ov","align":"left","baseline":"middle","fontSize":19,"fontWeight":"bold"},"encoding":{"x":{"datum":34.0,"type":"quantitative","scale":{"domain":[-0.5,34],"nice":false},"axis":null},"y":{"datum":47.7,"type":"quantitative","scale":{"domain":[5,55],"nice":false,"zero":false},"axis":null}}}
 ],
 "resolve":{"axis":{"x":"independent","y":"independent"}}},
{"width":380,"height":369,
 "layer":[
  {"data":{"values":[{}]},"mark":{"type":"rule","color":"#555555","strokeWidth":1.2,"strokeDash":[13,3,1.5,3]},"encoding":{"y":{"datum":30,"type":"quantitative","scale":{"domain":[5,55],"nice":false,"zero":false},"axis":null}}},
  {"data":{"name":"J_bot"},"mark":{"type":"line","color":"black","strokeWidth":1},"encoding":{"x":{"field":"d","type":"quantitative","scale":{"domain":[-0.5,27.5],"nice":false},"axis":{"orient":"bottom","values":[0,3,6,9,12,15,18,21,24,27],"tickSize":8,"labelPadding":12,"title":null}},"y":{"field":"v","type":"quantitative","scale":{"domain":[5,55],"nice":false,"zero":false},"axis":{"orient":"right","values":[5,10,15,20,25,30,35,40,45,50,55],"tickSize":8,"labelPadding":4,"title":"Diâmetro (mm)","titleX":83,"titleY":184.5,"titleAngle":90,"titleAlign":"center","titleBaseline":"middle"}},"detail":{"field":"s"}}},
  {"data":{"name":"J_bot"},"transform":[{"filter":"datum.s=='f'"}],"mark":{"type":"point","filled":true,"color":"black","size":32,"opacity":1},"encoding":{"x":{"field":"d","type":"quantitative","scale":{"domain":[-0.5,27.5],"nice":false},"axis":{"orient":"bottom","values":[0,1,2,3,4,5,6,7,8,9,10,11,12,13,14,15,16,17,18,19,20,21,22,23,24,25,26,27],"tickSize":5,"labels":false,"domain":false,"title":null}},"y":{"field":"v","type":"quantitative","scale":{"domain":[5,55],"nice":false,"zero":false},"axis":null}}},
  {"data":{"name":"J_bot"},"transform":[{"filter":"datum.s=='o'"}],"mark":{"type":"point","filled":true,"fill":"white","stroke":"black","strokeWidth":1,"size":24,"opacity":1},"encoding":{"x":{"field":"d","type":"quantitative","scale":{"domain":[-0.5,27.5],"nice":false},"axis":null},"y":{"field":"v","type":"quantitative","scale":{"domain":[5,55],"nice":false,"zero":false},"axis":null}}},
  {"data":{"values":[{}]},"mark":{"type":"text","text":"(b)","align":"left","baseline":"middle","fontSize":19},"encoding":{"x":{"datum":-0.5,"type":"quantitative","scale":{"domain":[-0.5,27.5],"nice":false},"axis":null},"y":{"datum":53.3,"type":"quantitative","scale":{"domain":[5,55],"nice":false,"zero":false},"axis":null}}},
  {"data":{"values":[{}]},"mark":{"type":"text","text":"ov","align":"left","baseline":"middle","fontSize":19,"fontWeight":"bold"},"encoding":{"x":{"datum":25.5,"type":"quantitative","scale":{"domain":[-0.5,27.5],"nice":false},"axis":null},"y":{"datum":46.1,"type":"quantitative","scale":{"domain":[5,55],"nice":false,"zero":false},"axis":null}}}
 ],
 "resolve":{"axis":{"x":"independent","y":"independent"}}}
]
}
